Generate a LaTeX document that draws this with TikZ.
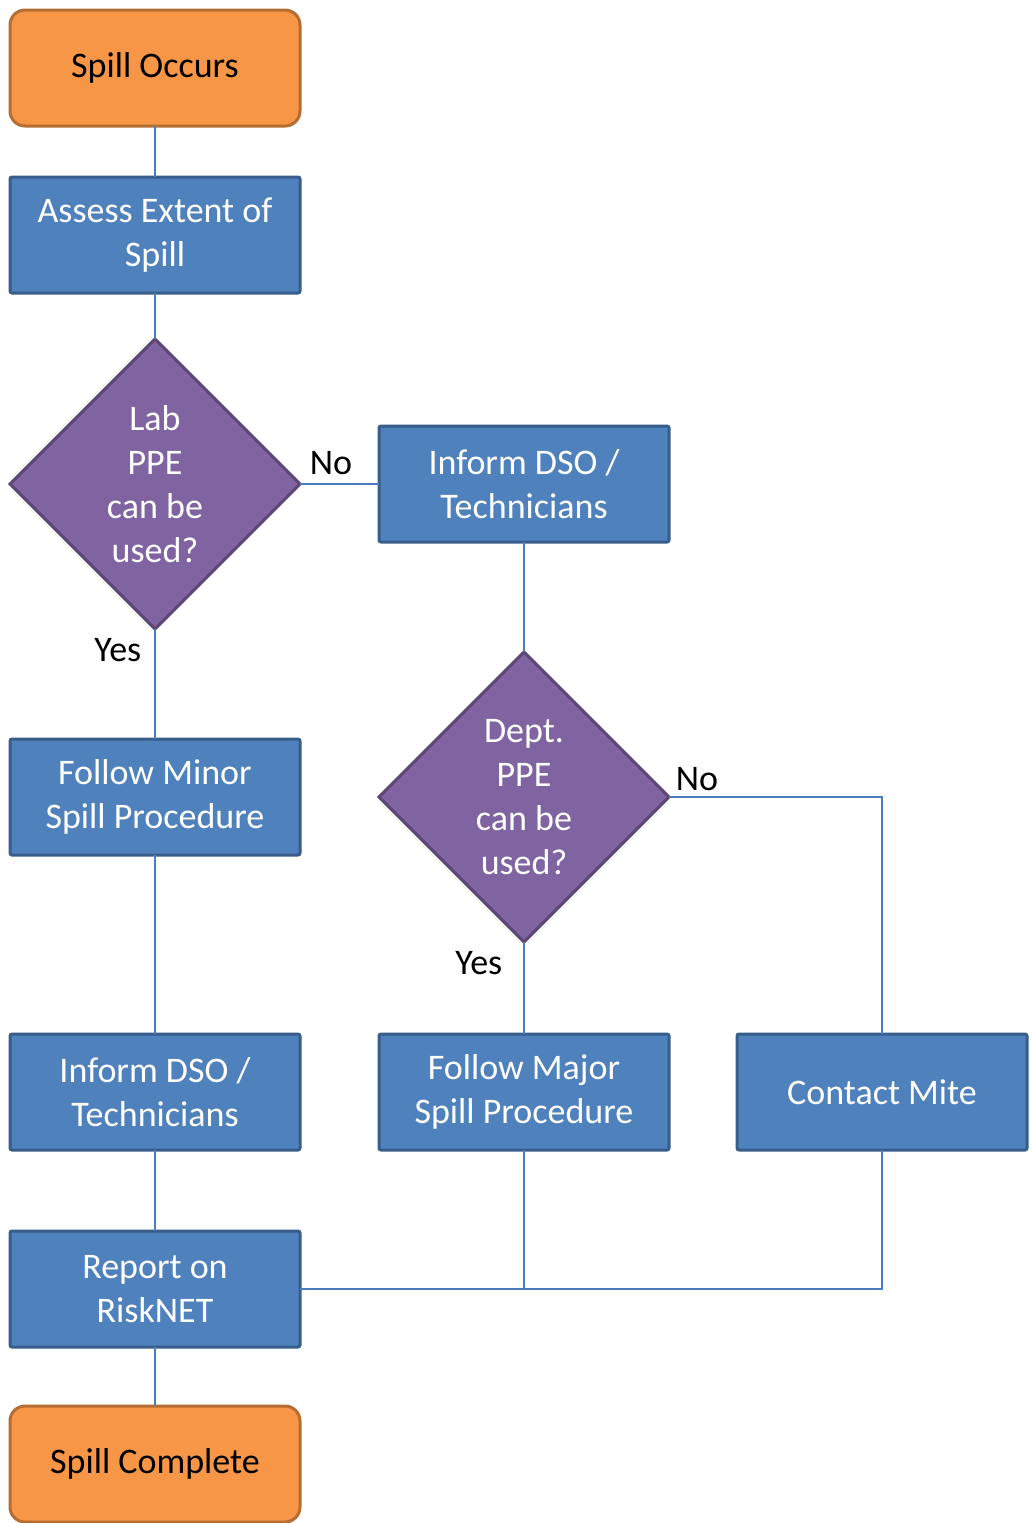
\documentclass[tikz,border=0pt]{standalone}
\usepackage{fontspec}
\setmainfont{Carlito}
\usepackage{tikz}
\usetikzlibrary{shapes.geometric,positioning}
\definecolor{procfill}{HTML}{4F81BD}
\definecolor{procline}{HTML}{385D8A}
\definecolor{decfill}{HTML}{8064A2}
\definecolor{decline}{HTML}{5C4776}
\definecolor{termfill}{HTML}{F79646}
\definecolor{termline}{HTML}{B66D31}
\definecolor{linkcol}{HTML}{4A7EBB}
\tikzset{
    %Define style for start and end
    term/.style={
           rectangle,
           rounded corners=7.5pt,
           draw=termline, line width=1.5pt,
           fill=termfill,
           outer sep=0pt,
           minimum width=145pt,
           minimum height=58pt,
           font=\fontsize{18}{22}\selectfont,
           text=black,
           align=center},
    %Define style for steps
    proc/.style={
           rectangle,
           rounded corners=1pt,
           draw=procline, line width=1.5pt,
           fill=procfill,
           outer sep=0pt,
           minimum width=145pt,
           minimum height=58pt,
           font=\fontsize{18}{22}\selectfont,
           text=white,
           align=center},
    %Define style for questions
    decis/.style={
           diamond,
           aspect=1,
           inner sep=0pt,
           outer sep=0pt,
           draw=decline, line width=1.5pt,
           fill=decfill,
           minimum width=145pt,
           minimum height=145pt,
           font=\fontsize{18}{22}\selectfont,
           text=white,
           align=center},
    % Define line style
    link/.style={
           -,
           draw=linkcol,
           line width=0.75pt},
    lbl/.style={
           font=\fontsize{18}{22}\selectfont,
           text=black,
           inner sep=4.5pt}
}

\begin{document}
\begin{tikzpicture}[x=0.5pt,y=-0.5pt]
\useasboundingbox (0,0) rectangle (1032,1523);
\node[term] at (155,68) (1){Spill Occurs};
\node[proc, below=25.5pt of 1](2){Assess Extent of\\Spill};
\node[decis, below=23pt of 2](3){Lab\\PPE\\can be\\used?};
\node[proc, right=39.5pt of 3](4){Inform DSO /\\Technicians};
\node[decis, below=55pt of 4](5){Dept.\\PPE\\can be\\used?};
\node[proc, below=55pt of 3](6){Follow Minor\\Spill Procedure};
\node[proc, below=89.5pt of 6](7){Inform DSO /\\Technicians};
\node[proc, right=39.5pt of 7](8){Follow Major\\Spill Procedure};
\node[proc, right=34pt of 8](9){Contact Mite};
\node[proc, below=40.5pt of 7](10){Report on\\RiskNET};
\node[term, below=29.5pt of 10](11){Spill Complete};
\path[link]
	(1) edge (2)
	(2) edge (3)
	(3) edge node[lbl, pos=0, anchor=south west]{No} (4)
	(3) edge node[lbl, pos=0, anchor=north east, xshift=-2pt]{Yes} (6)
	(4) edge (5)
	(5) edge node[lbl, pos=0, anchor=north east, xshift=-6pt]{Yes} (8)
	(6) edge (7)
	(7) edge (10)
	(10) edge (11);
\draw[link] (5) -| node[lbl, pos=0, anchor=south west, inner sep=3pt]{No} (9);
\draw[link] (8) |- (10);
\draw[link] (9) |- (10);
\end{tikzpicture}
\end{document}
